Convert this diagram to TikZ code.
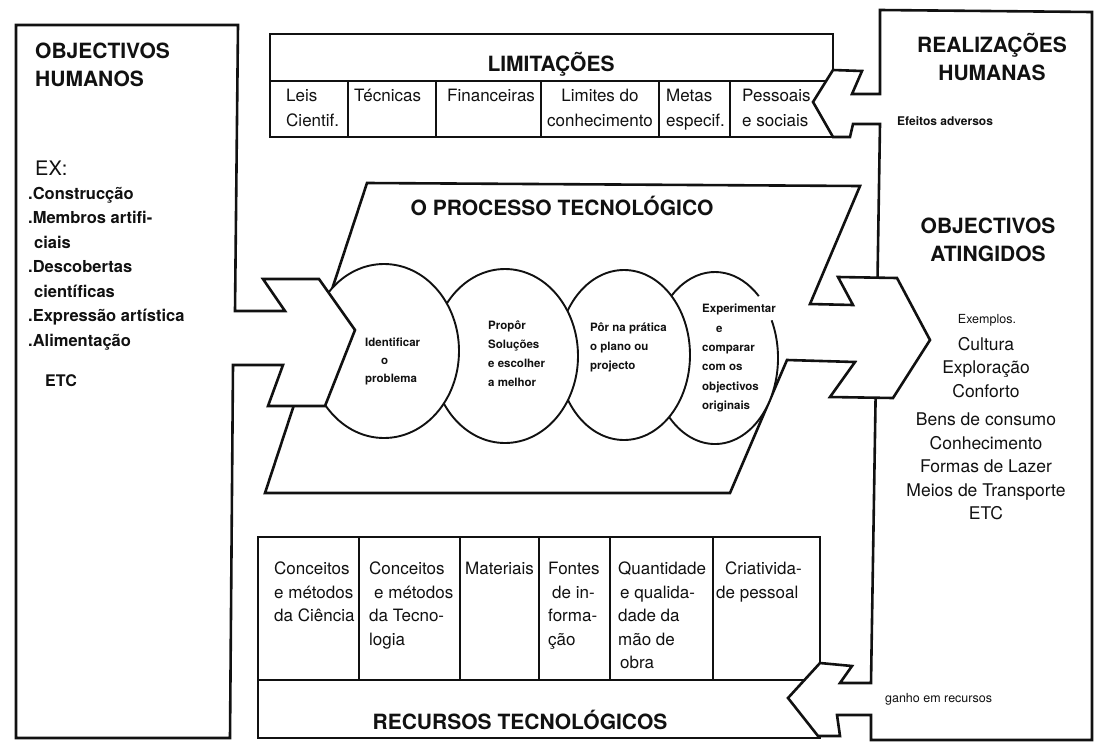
\documentclass[tikz,border=0pt]{standalone}
\usepackage{fontspec}
\setmainfont{TeX Gyre Heros}
\usetikzlibrary{calc}
\definecolor{ptink}{HTML}{111111}
\tikzset{
  pt text/.style={text=ptink},
  pt box/.style={draw=ptink, line width=2.6pt, fill=white, line join=miter},
  pt rule/.style={draw=ptink, line width=1.8pt},
  pt ball/.style={draw=ptink, line width=1.9pt},
  pt head/.style={font=\fontsize{21}{28}\selectfont\bfseries, inner sep=0pt, align=center},
  pt cell/.style={font=\fontsize{17}{25}\selectfont, inner sep=0pt, anchor=north west, align=left},
  pt res/.style={pt cell, font=\fontsize{17}{23.5}\selectfont},
  pt stage/.style={font=\fontsize{11.5}{19}\selectfont\bfseries, inner sep=0pt, anchor=north west, align=left},
  pt list/.style={font=\fontsize{17.5}{24.5}\selectfont, inner sep=0pt, align=left},
  pt note/.style={font=\fontsize{12.5}{14}\selectfont, inner sep=0pt, anchor=base west}
}
\begin{document}
\begin{tikzpicture}[pt text, x=1pt, y=-1pt]
  \useasboundingbox (0,0) rectangle (1095,742);
  \draw[pt box] (270,34) rectangle (833,137);
  \draw[pt rule] (270,81) -- (833,81);
  \foreach \cx in {348,436,541,659,730}
    \draw[pt rule] (\cx,81) -- (\cx,137);
  \draw[pt box] (258,537) rectangle (820,738);
  \draw[pt rule] (258,680) -- (820,680);
  \foreach \cx in {359,460,539,610,713}
    \draw[pt rule] (\cx,537) -- (\cx,680);
  \draw[pt box] (880,10) -- (1092,12) -- (1092,740) -- (871,740) -- (871,715) -- (837,715)
    -- (840,736) -- (818,736) -- (788,698) -- (820,663) -- (852,666) -- (840,683) -- (871,683)
    -- (880,124) -- (853,124) -- (850,137) -- (833,137) -- (813,102) -- (833,70) -- (862,71)
    -- (852,94) -- (880,94) -- cycle;
  \draw[pt box] (367,183) -- (860,186) -- (810,304) -- (853,305) -- (838,277) -- (897,278)
    -- (930,340) -- (893,398) -- (830,397) -- (855,362) -- (787,360) -- (730,493) -- (265,493) -- cycle;
  \fill[white] (715,358) ellipse [x radius=63, y radius=86];
  \draw[pt ball] (715,358) ++(-26:63 and 86) arc [start angle=-26, end angle=314, x radius=63, y radius=86];
  \draw[pt ball, fill=white] (624,355) ellipse [x radius=66, y radius=85];
  \draw[pt ball, fill=white] (505,356) ellipse [x radius=73, y radius=87];
  \draw[pt ball, fill=white] (384,351) ellipse [x radius=75, y radius=87];
  \draw[pt box] (16,25) -- (238,25) -- (235,311) -- (285,311) -- (263,279) -- (319,279) -- (355,330)
    -- (325,406) -- (268,406) -- (283,365) -- (233,365) -- (230,738) -- (16,738) -- cycle;

  \node[pt head, anchor=north west, align=left] (objhum) at (35,43) {OBJECTIVOS\\HUMANOS};
  \node[pt list, anchor=base west, font=\fontsize{20}{24}\selectfont] (ex) at (35,175) {EX:};
  \node[pt list, anchor=north west, font=\fontsize{16.5}{24.5}\selectfont\bfseries] (exlist) at (28,187)
    {.Construcção\\.Membros artifi-\\\hspace*{6pt}ciais\\.Descobertas\\\hspace*{6pt}científicas\\.Expressão artística\\.Alimentação};
  \node[pt list, anchor=base west, font=\fontsize{16}{20}\selectfont\bfseries] (etcl) at (45,386) {ETC};

  \node[pt head, anchor=base] (lim) at (551,71) {LIMITAÇÕES};
  \node[pt cell] (leis) at (286,89) {Leis\\Cientif.};
  \node[pt cell] (tec) at (354,89) {Técnicas};
  \node[pt cell] (fin) at (447,89) {Financeiras};
  \node[pt cell, anchor=north, align=center] (limc) at (600,89) {Limites do\\conhecimento};
  \node[pt cell] (metas) at (666,89) {Metas\\especif.};
  \node[pt cell] (pess) at (742,89) {Pessoais\\e sociais};

  \node[pt head, anchor=base] (proc) at (562,215) {O PROCESSO TECNOLÓGICO};
  \node[pt stage, font=\fontsize{11.5}{18}\selectfont\bfseries] (ident) at (365,338) {Identificar\\\hspace*{16pt}o\\problema};
  \node[pt stage] (prop) at (488,321) {Propôr\\Soluções\\e escolher\\a melhor};
  \node[pt stage] (por) at (590,323) {Pôr na prática\\o plano ou\\projecto};
  \node[pt stage, font=\fontsize{11.5}{19.4}\selectfont\bfseries] (exper) at (702,304)
    {Experimentar\\\hspace*{14pt}e\\comparar\\com os\\objectivos\\originais};

  \node[pt res] (cc) at (274,562) {Conceitos\\e métodos\\da Ciência};
  \node[pt res] (ct) at (369,562) {Conceitos\\\hspace*{5pt}e métodos\\da Tecno-\\logia};
  \node[pt res] (mat) at (465,562) {Materiais};
  \node[pt res] (font) at (548,562) {Fontes\\\hspace*{4pt}de in-\\forma-\\ção};
  \node[pt res] (quant) at (618,562) {Quantidade\\\hspace*{2pt}e qualida-\\dade da\\mão de\\\hspace*{2pt}obra};
  \node[pt res] (criat) at (716,562) {\hspace*{9pt}Criativida-\\de pessoal};
  \node[pt head, anchor=base] (rec) at (520,729) {RECURSOS TECNOLÓGICOS};

  \node[pt head, anchor=north] (realh) at (992,33) {REALIZAÇÕES\\HUMANAS};
  \node[pt note, font=\fontsize{12}{14}\selectfont\bfseries] (efeit) at (897,125) {Efeitos adversos};
  \node[pt head, anchor=north] (objat) at (988,218) {OBJECTIVOS\\ATINGIDOS};
  \node[pt note, anchor=base] (exemp) at (987,323) {Exemplos.};
  \node[pt list, anchor=north, align=center, font=\fontsize{17.5}{23.5}\selectfont] (exres) at (986,337)
    {Cultura\\Exploração\\Conforto\\[5pt]Bens de consumo\\Conhecimento\\Formas de Lazer\\Meios de Transporte\\ETC};
  \node[pt note] (ganho) at (885,702) {ganho em recursos};
\end{tikzpicture}
\end{document}
